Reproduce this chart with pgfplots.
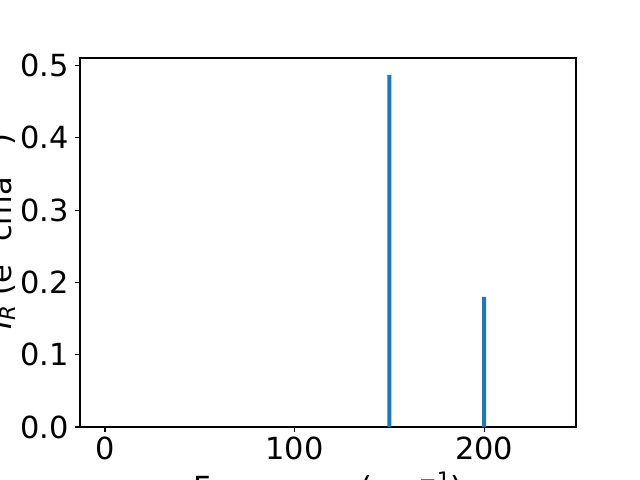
\documentclass[border=0pt]{standalone}
\usepackage{fontspec}
\setmainfont{DejaVu Sans}
\usepackage{pgfplots}
\pgfplotsset{compat=1.18}
\definecolor{mplblue}{HTML}{1F77B4}
\newcommand{\sups}[1]{\raisebox{0.36em}{\fontsize{15.4}{16}\selectfont #1}}
\newcommand{\subs}[1]{\raisebox{-0.16em}{\fontsize{15.4}{16}\selectfont #1}}
\begin{document}
\fontsize{22}{26}\selectfont
\begin{tikzpicture}
\begin{axis}[
  scale only axis, width=357.12bp, height=265.68bp,
  xmin=-13.2, xmax=248.5, ymin=0, ymax=0.5104,
  xtick={0,100,200}, ytick={0,0.1,0.2,0.3,0.4,0.5},
  /pgf/number format/assume math mode=true,
  tick label style={font=\fontsize{22}{26}\selectfont, inner sep=0pt},
  xticklabel style={yshift=-3.5bp},
  yticklabel style={xshift=-4.5bp, /pgf/number format/.cd, fixed, fixed zerofill, precision=1},
  axis line style={line width=0.8bp, black},
  every tick/.style={black, line width=0.8bp},
  major tick length=3.5bp,
  tick align=outside,
  tick pos=left,
  label style={font=\fontsize{22}{26}\selectfont},
  xlabel={Frequency (cm\sups{−1})},
  ylabel={\textit{I}\subs{\textit{R}} (e\sups{2} cma\sups{−1})},
  x label style={at={(axis description cs:0.5,-0.122)}, anchor=north, inner sep=0pt},
  y label style={at={(axis description cs:-0.1391,0.53)}, anchor=base, inner sep=0pt},
]
\addplot[ybar, bar width=2.1, fill=mplblue, draw=none] coordinates {(150,0.487) (200,0.180)};
\coordinate (sw) at (rel axis cs:0,0);
\end{axis}
\pgfresetboundingbox
\path (sw) ++(-57.6bp,-38.16bp) rectangle ++(460.8bp,345.6bp);
\end{tikzpicture}
\end{document}
